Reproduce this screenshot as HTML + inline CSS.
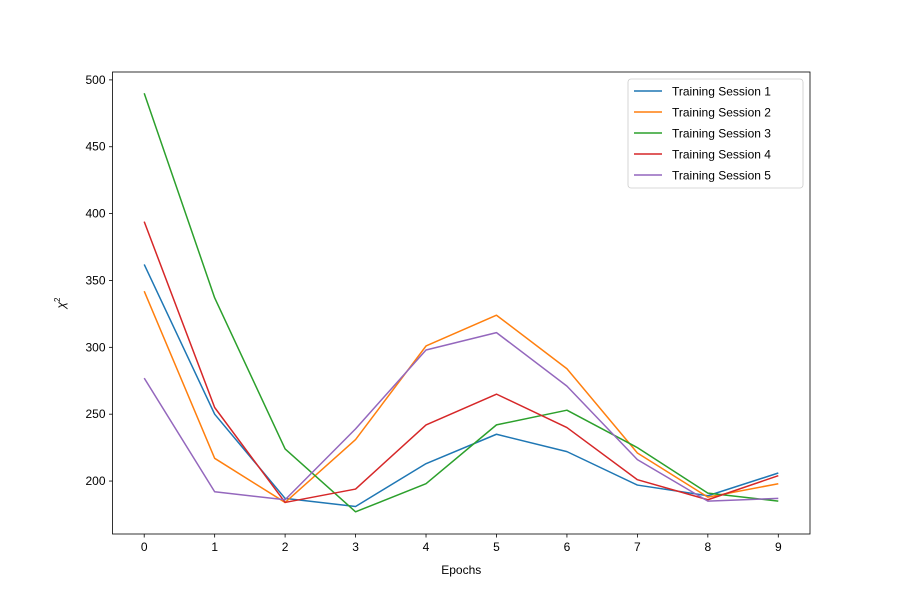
<!DOCTYPE html>
<html><head><meta charset="utf-8"><style>
body{margin:0;background:#fff}
svg{display:block;font-family:"Liberation Sans","DejaVu Sans",sans-serif}
</style></head><body>
<svg id="chart" width="900" height="600" viewBox="0 0 900 600"></svg>
<script>
const epochs=[0,1,2,3,4,5,6,7,8,9];
const seriesNames=["Training Session 1","Training Session 2","Training Session 3","Training Session 4","Training Session 5"];
const s1=[362,250,187,181,213,235,222,197,189,206];
const s2=[342,217,184,231,301,324,284,221,188,198];
const s3=[490,337,224,177,198,242,253,225,191,185];
const s4=[394,255,184,194,242,265,240,201,186,204];
const s5=[277,192,186,239,298,311,271,216,185,187];
const yTicks=[200,250,300,350,400,450,500];
const colors=["#1f77b4","#ff7f0e","#2ca02c","#d62728","#9467bd"];
const series=[s1,s2,s3,s4,s5];

const L=112.5,R=810,T=72,B=534;
const xMin=-0.45,xMax=9.45,yMin=160.4,yMax=505.9;
const xs=v=>L+(v-xMin)/(xMax-xMin)*(R-L);
const ys=v=>B-(v-yMin)/(yMax-yMin)*(B-T);
const svg=document.getElementById('chart');
const NS="http://www.w3.org/2000/svg";
function mk(tag,attrs,parent){const e=document.createElementNS(NS,tag);for(const k in attrs)e.setAttribute(k,attrs[k]);(parent||svg).appendChild(e);return e;}

// series
series.forEach((s,i)=>{
  const p=mk('polyline',{points:s.map((v,j)=>xs(epochs[j])+','+ys(v)).join(' '),fill:'none',stroke:colors[i],'stroke-width':1.5,'stroke-linejoin':'round'});
  
  
});
// frame
const fr=mk('rect',{x:L,y:T,width:R-L,height:B-T,fill:'none',stroke:'#000','stroke-width':0.8});


// x ticks
epochs.forEach(v=>{
  const x=xs(v);
  mk('line',{x1:x,x2:x,y1:B,y2:B+3.5,stroke:'#000','stroke-width':0.8});
  const t=mk('text',{x:x,y:B+17,'font-size':12,'text-anchor':'middle'});t.textContent=v;
  
  
});
yTicks.forEach(v=>{
  const y=ys(v);
  mk('line',{x1:L-3.5,x2:L,y1:y,y2:y,stroke:'#000','stroke-width':0.8});
  const t=mk('text',{x:L-7,y:y+4,'font-size':12,'text-anchor':'end'});t.textContent=v;
  
  
});
const xt=mk('text',{x:(L+R)/2,y:574,'font-size':12,'text-anchor':'middle'});xt.textContent='Epochs';


const yt=mk('text',{x:0,y:0,'font-size':12,'text-anchor':'middle','font-style':'italic',transform:'translate(65,303) rotate(-90)'});
yt.innerHTML='χ<tspan dy="-5" font-size="8" font-style="normal">2</tspan>';


// legend
const lg=mk('g',{});


mk('rect',{x:628,y:79,width:175,height:109,rx:3,fill:'#fff',stroke:'#ccc','stroke-width':0.8},lg);
seriesNames.forEach((n,i)=>{
  const y=91+i*21;
  const en=mk('g',{},lg);
  
  
  mk('line',{x1:634,x2:662,y1:y,y2:y,stroke:colors[i],'stroke-width':1.5},en);
  const t=mk('text',{x:672,y:y+4.5,'font-size':12},en);t.textContent=n;
});
</script>
</body></html>
